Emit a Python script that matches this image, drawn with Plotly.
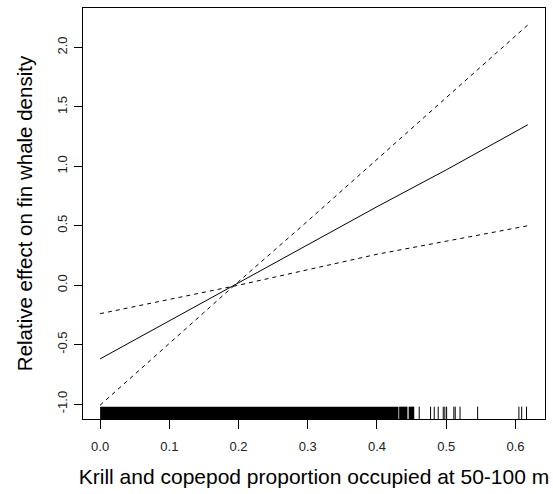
import plotly.graph_objects as go

# Data
x_pts = [0.0, 0.1, 0.2, 0.3, 0.4, 0.5, 0.618]
fit = [-0.62, -0.30, 0.02, 0.34, 0.66, 0.97, 1.35]
ci_steep = [-1.01, -0.49, 0.03, 0.54, 1.06, 1.58, 2.19]
ci_gentle = [-0.24, -0.12, 0.00, 0.13, 0.26, 0.37, 0.50]

# rug: dense blocks (start, end) and isolated ticks
rug_blocks = [(0.0, 0.431), (0.432, 0.444), (0.4457, 0.4538)]
rug_ticks = [0.461, 0.4774, 0.4827, 0.4884, 0.4957, 0.498, 0.5006,
             0.511, 0.513, 0.520, 0.5454, 0.605, 0.609, 0.616]

x_ticks = [0.0, 0.1, 0.2, 0.3, 0.4, 0.5, 0.6]
x_labels = ["0.0", "0.1", "0.2", "0.3", "0.4", "0.5", "0.6"]
y_ticks = [-1.0, -0.5, 0.0, 0.5, 1.0, 1.5, 2.0]
y_labels = ["-1.0", "-0.5", "0.0", "0.5", "1.0", "1.5", "2.0"]

fig = go.Figure()
fig.add_trace(go.Scatter(x=x_pts, y=fit, mode="lines",
                         line=dict(color="black", width=1), showlegend=False))
fig.add_trace(go.Scatter(x=x_pts, y=ci_steep, mode="lines",
                         line=dict(color="black", width=1, dash="4px,4px"), showlegend=False))
fig.add_trace(go.Scatter(x=x_pts, y=ci_gentle, mode="lines",
                         line=dict(color="black", width=1, dash="4px,4px"), showlegend=False))

shapes = []
for a, b in rug_blocks:
    shapes.append(dict(type="rect", xref="x", yref="y domain", x0=a, x1=b, y0=0, y1=0.03,
                       fillcolor="black", line=dict(width=0)))
for t in rug_ticks:
    shapes.append(dict(type="line", xref="x", yref="y domain", x0=t, x1=t, y0=0, y1=0.03,
                       line=dict(color="black", width=1)))
fig.update_layout(shapes=shapes)

font = "Liberation Sans, Arial, sans-serif"
fig.update_layout(
    width=553, height=494,
    margin=dict(l=83, r=8, t=8, b=75),
    plot_bgcolor="white", paper_bgcolor="white",
    font=dict(family=font, color="black"),
    xaxis=dict(range=[-0.0247, 0.6427], tickvals=x_ticks, ticktext=x_labels,
               showgrid=False, zeroline=False, showline=True, mirror=True,
               linecolor="black", linewidth=1, ticks="outside", ticklen=9,
               tickcolor="black", ticklabelstandoff=6,
               tickfont=dict(size=13, family=font, color="#222"),
               title=dict(text="Krill and copepod proportion occupied at 50-100 m",
                          font=dict(size=21, family=font), standoff=16)),
    yaxis=dict(range=[-1.126, 2.332], tickvals=y_ticks, ticktext=y_labels,
               showgrid=False, zeroline=False, showline=True, mirror=True,
               linecolor="black", linewidth=1, ticks="outside", ticklen=8,
               tickcolor="black", tickangle=-90, ticklabelstandoff=2,
               tickfont=dict(size=13, family=font, color="#222"),
               title=dict(text="Relative effect on fin whale density",
                          font=dict(size=20.5, family=font), standoff=16)),
)

fig.write_html("out.html")
